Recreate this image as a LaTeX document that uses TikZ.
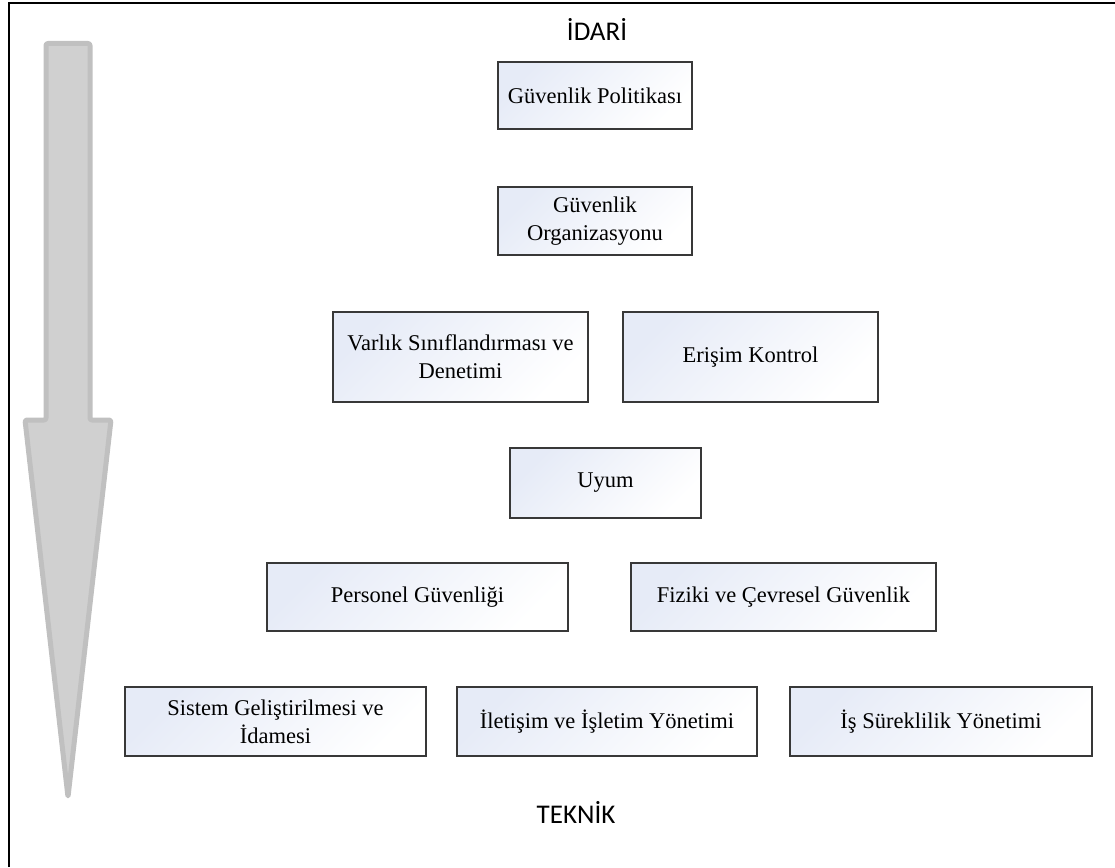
\documentclass[tikz,border=0pt]{standalone}
\usepackage{fontspec}
\setmainfont{Liberation Serif}
\newfontfamily\headfont{Carlito}
\definecolor{boxtint}{RGB}{230,235,247}
\definecolor{arrowfill}{RGB}{208,208,208}
\definecolor{arrowedge}{RGB}{192,192,192}
\begin{document}
\begin{tikzpicture}[x=1pt,y=-1pt,
  topic/.style={draw=black!78, line width=1.3pt, rectangle,
    top color=boxtint, bottom color=white, shading angle=45,
    inner sep=0pt, align=center,
    font=\fontsize{22.5}{28}\selectfont},
  level/.style={font=\headfont\fontsize{27}{32}\selectfont, inner sep=0pt},
  frameline/.style={line width=2pt, black}]
\useasboundingbox (0,0) rectangle (1115,867);

% outer frame (top and left edges)
\draw[frameline] (9,867) -- (9,3) -- (1115,3);

% direction arrow from administrative to technical
\draw[draw=arrowedge, fill=arrowfill, line width=5pt, line join=round, rounded corners=2pt]
  (46,43.5) -- (90,43.5) -- (90,420) -- (111,420) -- (68,797)
  -- (25,420) -- (46,420) -- cycle;

% level labels
\node[level] (idari) at (597,29) {İDARİ};
\node[level] (teknik) at (576,812) {TEKNİK};

% topic boxes
\node[topic, minimum width=194, minimum height=67] (pol) at (595,95.5) {Güvenlik Politikası};
\node[topic, minimum width=194, minimum height=68] (org) at (595,221) {Güvenlik\\Organizasyonu};
\node[topic, minimum width=255, minimum height=90] (var) at (460.5,357) {Varlık Sınıflandırması ve\\Denetimi};
\node[topic, minimum width=255, minimum height=90] (eri) at (750.5,357) {Erişim Kontrol};
\node[topic, minimum width=191, minimum height=70] (uyum) at (605.5,483) {Uyum};
\node[topic, minimum width=301, minimum height=68] (per) at (417.5,597) {Personel Güvenliği};
\node[topic, minimum width=305, minimum height=68] (fiz) at (783.5,597) {Fiziki ve Çevresel Güvenlik};
\node[topic, minimum width=301, minimum height=69] (sis) at (275.5,721.5) {Sistem Geliştirilmesi ve\\İdamesi};
\node[topic, minimum width=300, minimum height=69] (ile) at (607,721.5) {İletişim ve İşletim Yönetimi};
\node[topic, minimum width=302, minimum height=69] (is) at (941,721.5) {İş Süreklilik Yönetimi};
\end{tikzpicture}
\end{document}
